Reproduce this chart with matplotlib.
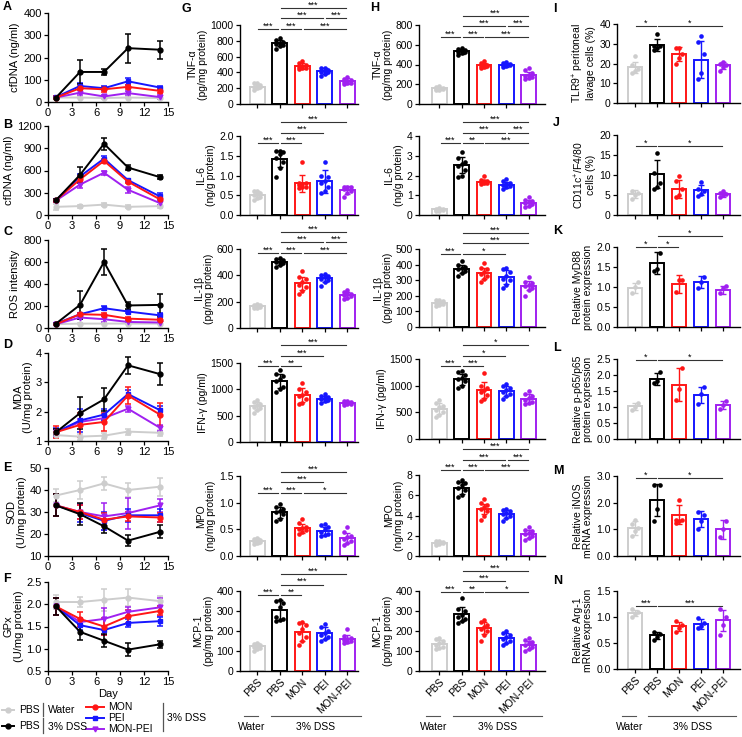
import numpy as np
import matplotlib.pyplot as plt
from matplotlib import transforms
from matplotlib.lines import Line2D

plt.rcParams['font.family'] = ['Liberation Sans', 'DejaVu Sans']
plt.rcParams['mathtext.fontset'] = 'custom'
plt.rcParams['mathtext.rm'] = 'Liberation Sans'
plt.rcParams['mathtext.it'] = 'Liberation Sans:italic'

W, H = 742, 737
COLORS = ['#cdcdcd', '#000000', '#ff1616', '#1616ff', '#a020f0']
MARKERS = ['o', 'o', 'o', 's', 'v']
groups = ['PBS', 'PBS', 'MON', 'PEI', 'MON-PEI']

# ---- time courses (order: PBS water, PBS DSS, MON, PEI, MON-PEI) ----
days = [1, 4, 7, 10, 14]
a_mean = [[20, 20, 18, 20, 18], [20, 135, 135, 242, 235], [20, 62, 57, 68, 50],
          [22, 72, 62, 93, 65], [20, 42, 25, 40, 22]]
a_err = [[3, 4, 4, 4, 4], [3, 55, 15, 65, 40], [5, 8, 10, 10, 10],
         [5, 12, 8, 15, 8], [5, 10, 8, 10, 8]]
b_mean = [[110, 120, 140, 110, 120], [200, 540, 960, 640, 510], [200, 480, 730, 450, 210],
          [200, 520, 760, 470, 250], [195, 410, 570, 340, 160]]
b_err = [[40, 20, 20, 20, 20], [10, 110, 80, 30, 30], [20, 40, 30, 20, 30],
         [20, 30, 30, 20, 40], [20, 40, 30, 40, 30]]
c_mean = [[35, 40, 40, 40, 40], [40, 210, 600, 205, 210], [35, 125, 120, 85, 75],
          [40, 125, 180, 150, 115], [35, 95, 80, 55, 50]]
c_err = [[5, 5, 5, 5, 5], [5, 125, 120, 30, 100], [5, 10, 15, 15, 15],
         [5, 10, 20, 15, 20], [5, 15, 25, 10, 10]]
d_mean = [[1.2, 1.15, 1.18, 1.32, 1.28], [1.3, 1.95, 2.42, 3.58, 3.28], [1.3, 1.55, 1.65, 2.55, 1.9],
          [1.3, 1.7, 1.9, 2.6, 2.05], [1.3, 1.65, 1.78, 2.1, 1.45]]
d_err = [[0.1, 0.1, 0.1, 0.1, 0.1], [0.1, 0.55, 0.4, 0.3, 0.38], [0.2, 0.4, 0.3, 0.3, 0.4],
         [0.15, 0.4, 0.2, 0.15, 0.15], [0.1, 0.1, 0.1, 0.1, 0.1]]
e_mean = [[37.5, 40, 43, 40, 41.5], [33, 29, 23.5, 17, 21], [33, 30, 26.5, 28, 27.5],
          [33, 29.5, 26, 28.5, 28.5], [33, 30, 28, 29.5, 33]]
e_err = [[3, 4, 3, 3, 4], [5, 5, 3, 2.5, 3], [5, 3, 3, 2, 2],
         [5, 4, 4, 3, 3], [5, 3, 6, 7, 3]]
f_mean = [[2.05, 2.05, 2.1, 2.15, 2.07], [1.95, 1.38, 1.18, 0.98, 1.1], [1.95, 1.67, 1.5, 1.73, 1.85],
          [1.95, 1.53, 1.42, 1.58, 1.62], [1.95, 1.6, 1.67, 1.83, 1.93]]
f_err = [[0.15, 0.12, 0.25, 0.2, 0.12], [0.2, 0.18, 0.15, 0.15, 0.08], [0.2, 0.15, 0.2, 0.15, 0.1],
         [0.2, 0.1, 0.1, 0.08, 0.1], [0.2, 0.1, 0.25, 0.1, 0.2]]

# ---- column G ----
g_tnf_mean = [220, 770, 480, 415, 290]
g_tnf_sd = [30, 40, 40, 35, 35]
g_tnf_pts = [[180, 200, 210, 220, 230, 240, 260, 270], [700, 730, 750, 760, 770, 790, 810, 830],
             [440, 450, 460, 470, 480, 500, 520, 540], [360, 380, 400, 410, 420, 430, 450, 460],
             [250, 260, 270, 280, 290, 300, 320, 340]]
g_il6_mean = [0.5, 1.42, 0.8, 0.85, 0.63]
g_il6_sd = [0.1, 0.2, 0.22, 0.3, 0.1]
g_il6_pts = [[0.38, 0.42, 0.45, 0.5, 0.52, 0.55, 0.6, 0.62], [0.95, 1.2, 1.35, 1.45, 1.55, 1.6, 1.62, 1.63],
             [0.68, 0.7, 0.72, 0.75, 0.78, 0.8, 0.82, 1.35], [0.55, 0.62, 0.7, 0.8, 0.85, 0.95, 1.0, 1.35],
             [0.45, 0.55, 0.62, 0.65, 0.7, 0.72, 0.72]]
g_il1b_mean = [165, 500, 340, 378, 250]
g_il1b_sd = [12, 25, 50, 25, 20]
g_il1b_pts = [[150, 155, 160, 165, 170, 172, 175, 180], [460, 475, 490, 500, 505, 515, 525, 535],
              [260, 280, 310, 330, 350, 370, 390, 430], [320, 350, 365, 375, 385, 395, 400, 410],
              [220, 230, 240, 250, 255, 260, 270, 285]]
g_ifn_mean = [680, 1160, 890, 820, 745]
g_ifn_sd = [80, 130, 130, 60, 25]
g_ifn_pts = [[560, 600, 640, 670, 700, 720, 760, 800], [950, 1000, 1050, 1150, 1200, 1250, 1300, 1370],
             [720, 750, 820, 870, 900, 950, 1000, 1120], [750, 780, 800, 810, 830, 850, 880, 920],
             [710, 720, 730, 740, 750, 760, 770, 780]]
g_mpo_mean = [0.28, 0.82, 0.52, 0.47, 0.34]
g_mpo_sd = [0.05, 0.1, 0.08, 0.08, 0.1]
g_mpo_pts = [[0.22, 0.24, 0.26, 0.28, 0.29, 0.3, 0.32, 0.34], [0.65, 0.7, 0.78, 0.82, 0.85, 0.88, 0.92, 0.97],
             [0.42, 0.45, 0.48, 0.5, 0.52, 0.55, 0.62, 0.7], [0.38, 0.4, 0.42, 0.45, 0.5, 0.55, 0.58, 0.6],
             [0.2, 0.25, 0.28, 0.32, 0.35, 0.38, 0.45, 0.55]]
g_mcp_mean = [125, 305, 195, 188, 160]
g_mcp_sd = [15, 50, 45, 30, 20]
g_mcp_pts = [[100, 110, 115, 120, 125, 130, 135, 140], [250, 255, 260, 270, 320, 340, 350, 355],
             [130, 150, 170, 190, 210, 230, 240, 245], [150, 160, 170, 180, 190, 200, 220, 235],
             [140, 145, 150, 155, 160, 165, 175, 210]]

# ---- column H ----
h_tnf_mean = [160, 535, 390, 398, 295]
h_tnf_sd = [15, 25, 30, 20, 30]
h_tnf_pts = [[140, 145, 150, 155, 160, 165, 170, 180], [500, 515, 525, 530, 540, 550, 560, 570],
             [360, 370, 380, 385, 390, 400, 420, 440], [370, 380, 390, 395, 400, 410, 420, 430],
             [250, 265, 275, 285, 295, 310, 340, 360]]
h_il6_mean = [0.28, 2.55, 1.68, 1.52, 0.62]
h_il6_sd = [0.05, 0.4, 0.1, 0.15, 0.15]
h_il6_pts = [[0.2, 0.22, 0.25, 0.27, 0.28, 0.3, 0.32, 0.35], [1.9, 2.0, 2.3, 2.5, 2.6, 2.7, 2.9, 3.2],
             [1.55, 1.6, 1.62, 1.65, 1.7, 1.72, 1.75, 2.0], [1.3, 1.4, 1.45, 1.5, 1.55, 1.6, 1.7, 1.8],
             [0.4, 0.45, 0.55, 0.6, 0.65, 0.7, 0.75, 0.9]]
h_il1b_mean = [155, 372, 345, 318, 265]
h_il1b_sd = [12, 25, 35, 45, 30]
h_il1b_pts = [[135, 140, 150, 155, 160, 165, 170, 175], [330, 345, 360, 370, 380, 385, 395, 425],
              [290, 310, 330, 340, 355, 370, 380, 410], [250, 270, 300, 310, 330, 350, 370, 380],
              [200, 240, 250, 260, 270, 285, 290, 320]]
h_ifn_mean = [570, 1120, 910, 900, 755]
h_ifn_sd = [110, 100, 150, 100, 80]
h_ifn_pts = [[420, 450, 500, 550, 600, 620, 680, 740], [950, 1000, 1080, 1120, 1150, 1200, 1250, 1280],
             [720, 750, 820, 880, 920, 950, 1000, 1240], [750, 800, 850, 880, 920, 950, 1000, 1040],
             [650, 680, 700, 740, 760, 800, 850, 900]]
h_mpo_mean = [1.3, 6.75, 4.65, 4.15, 2.2]
h_mpo_sd = [0.15, 0.6, 0.5, 0.4, 0.4]
h_mpo_pts = [[1.1, 1.2, 1.25, 1.3, 1.35, 1.4, 1.45, 1.5], [5.8, 6.0, 6.5, 6.7, 7.0, 7.2, 7.3, 7.5],
             [3.6, 4.0, 4.4, 4.6, 4.8, 5.0, 5.2, 5.6], [3.5, 3.8, 4.0, 4.1, 4.2, 4.4, 4.5, 4.6],
             [1.6, 1.8, 2.0, 2.2, 2.3, 2.5, 2.6, 2.9]]
h_mcp_mean = [135, 285, 215, 165, 132]
h_mcp_sd = [18, 35, 30, 25, 20]
h_mcp_pts = [[110, 115, 120, 130, 140, 150, 160, 165], [240, 250, 260, 270, 280, 300, 310, 365],
             [150, 180, 200, 210, 220, 230, 245, 255], [130, 140, 150, 160, 170, 180, 190, 200],
             [100, 110, 120, 130, 140, 145, 155, 165]]

# ---- column I-N ----
i_mean = [18, 29.5, 25, 22, 19]
i_sd = [3, 3, 3.5, 9.5, 2]
i_pts = [[15, 16, 17, 19, 24], [27, 28, 29, 29, 35], [20, 23, 25, 28, 28],
         [12, 15, 25, 31, 34], [16, 18, 19, 20, 21]]
j_mean = [5.3, 10.3, 6.5, 6.2, 5.2]
j_sd = [1, 3.5, 2.2, 1.3, 0.6]
j_pts = [[4, 5, 5.5, 6], [6.5, 7, 8, 10.5, 15.5], [4.5, 5, 6.5, 8.5, 9.8],
         [4.8, 5.2, 6, 6.5, 8.3], [4.5, 5, 5.2, 5.5, 6]]
k_mean = [0.97, 1.6, 1.08, 1.12, 0.93]
k_sd = [0.12, 0.28, 0.22, 0.15, 0.1]
k_pts = [[0.85, 1.0, 1.12], [1.4, 1.45, 1.85], [0.88, 1.18, 1.18], [0.98, 1.12, 1.25], [0.85, 0.97, 1.02]]
l_mean = [1.02, 1.88, 1.7, 1.38, 1.06]
l_sd = [0.12, 0.18, 0.52, 0.25, 0.12]
l_pts = [[0.92, 1.0, 1.12], [1.75, 1.8, 2.08], [1.22, 1.55, 2.22], [1.1, 1.4, 1.62], [0.95, 1.05, 1.18]]
m_mean = [1.05, 2.1, 1.55, 1.38, 1.0]
m_sd = [0.25, 0.6, 0.35, 0.3, 0.35]
m_pts = [[0.75, 0.95, 1.05, 1.2, 1.35], [1.3, 1.75, 2.65, 2.65], [1.25, 1.3, 1.35, 1.35, 2.1],
         [1.0, 1.3, 1.55, 1.65], [0.7, 1.0, 1.3]]
n_mean = [1.08, 0.65, 0.82, 0.86, 0.94]
n_sd = [0.06, 0.07, 0.08, 0.1, 0.2]
n_pts = [[1.0, 1.05, 1.1, 1.15], [0.55, 0.62, 0.68, 0.72], [0.72, 0.78, 0.85, 0.92],
         [0.78, 0.82, 0.88, 0.98], [0.65, 0.85, 1.0, 1.15]]

sig6_a = [(0, 1, 0, '***'), (1, 2, 0, '***'), (2, 4, 0, '***'), (1, 3, 1, '***'), (3, 4, 1, '***'), (1, 4, 2, '***')]

fig = plt.figure(figsize=(W / 100, H / 100), dpi=100)


def px_axes(left, top, right, bottom):
    return fig.add_axes([left / W, 1 - bottom / H, (right - left) / W, (bottom - top) / H])


def style(ax, fs):
    for s in ['top', 'right']:
        ax.spines[s].set_visible(False)
    for s in ['left', 'bottom']:
        ax.spines[s].set_linewidth(1.0)
    ax.tick_params(length=3, width=0.9, labelsize=fs, pad=1.5)


def line_panel(box, means, errs, ylim, yticks, ylabel, xlabel=None):
    ax = px_axes(*box)
    for k in [0, 4, 3, 2, 1]:
        ax.errorbar(days, means[k], yerr=errs[k], color=COLORS[k], marker=MARKERS[k], ms=3.5,
                    lw=1.4, elinewidth=1.1, capsize=2, capthick=1.1)
    ax.set_xlim(0, 15)
    ax.set_xticks([0, 3, 6, 9, 12, 15])
    ax.set_ylim(*ylim)
    ax.set_yticks(yticks)
    style(ax, 8)
    ax.set_ylabel(ylabel, fontsize=8, labelpad=2, linespacing=1.0)
    if xlabel:
        ax.set_xlabel(xlabel, fontsize=8, labelpad=1)
    return ax


def bar_panel(box, xlim, mean, sd, pts, ylim_top, yticks, ylabel, sigs, base, labels=False):
    ax = px_axes(*box)
    hpx = box[3] - box[1]
    for i in range(5):
        ax.bar(i, mean[i], width=0.66, facecolor='white', edgecolor=COLORS[i], linewidth=1.4, zorder=2)
        ax.errorbar(i, mean[i], yerr=sd[i], color=COLORS[i], capsize=2.5, elinewidth=1,
                    capthick=1, zorder=3)
        p = np.asarray(pts[i], dtype=float)
        off = ((np.arange(len(p)) % 3) - 1) * 0.15
        ax.scatter(i + off, p, s=11, color=COLORS[i], zorder=4, linewidths=0)
    ax.set_xlim(*xlim)
    ax.set_ylim(0, ylim_top)
    ax.set_yticks(yticks)
    ax.set_xticks(range(5))
    style(ax, 7.5)
    if labels:
        ax.set_xticklabels(groups, rotation=45, ha='right', rotation_mode='anchor', fontsize=7.5)
    else:
        ax.set_xticklabels([])
    ax.set_ylabel(ylabel, fontsize=7.5, labelpad=2, linespacing=1.0)
    tr = transforms.blended_transform_factory(ax.transData, ax.transAxes)
    step = 10.5 / hpx
    for i, j, lev, txt in sigs:
        y = base + lev * step
        ax.plot([i + 0.06, j - 0.06], [y, y], transform=tr, color='#333333', lw=0.8, clip_on=False)
        ax.text((i + j) / 2, y - 0.02, txt, transform=tr, ha='center', va='bottom', fontsize=6.5)
    if labels:
        trf = transforms.blended_transform_factory(ax.transData, fig.transFigure)
        yl = 1 - 716 / H
        yt = 1 - 727 / H
        fig.add_artist(Line2D([-0.6, 0.05], [yl, yl], transform=trf, color='#555555', lw=0.8))
        fig.add_artist(Line2D([0.6, 4.6], [yl, yl], transform=trf, color='#555555', lw=0.8))
        fig.text(-0.25, yt, 'Water', transform=trf, ha='center', va='center', fontsize=7.5)
        fig.text(2.6, yt, '3% DSS', transform=trf, ha='center', va='center', fontsize=7.5)
    return ax


# column A-F
line_panel((48, 13, 168, 102), a_mean, a_err, (0, 400), [0, 100, 200, 300, 400], 'cfDNA (ng/ml)')
line_panel((48, 126, 168, 215), b_mean, b_err, (0, 1200), [0, 300, 600, 900, 1200], 'cfDNA (ng/ml)')
line_panel((48, 240, 168, 328), c_mean, c_err, (0, 800), [0, 200, 400, 600, 800], 'ROS intensity')
line_panel((48, 353, 168, 441), d_mean, d_err, (1, 4), [1, 2, 3, 4], 'MDA\n(U/mg protein)')
line_panel((48, 468, 168, 556), e_mean, e_err, (10, 50), [10, 20, 30, 40, 50], 'SOD\n(U/mg protein)')
axf = line_panel((48, 582, 168, 671), f_mean, f_err, (0.5, 2.5), [0.5, 1.0, 1.5, 2.0, 2.5],
                 'GPx\n(U/mg protein)', xlabel='Day')
axf.set_yticklabels(['0.5', '1.0', '1.5', '2.0', '2.5'])

# column G
gx = (-0.76, 4.48)
bar_panel((240, 25, 358, 104), gx, g_tnf_mean, g_tnf_sd, g_tnf_pts, 1000, [0, 200, 400, 600, 800, 1000],
          'TNF-α\n(pg/mg protein)', sig6_a, 0.95)
ax = bar_panel((240, 136, 358, 215), gx, g_il6_mean, g_il6_sd, g_il6_pts, 2.0, [0, 0.5, 1.0, 1.5, 2.0],
               'IL-6\n(ng/g protein)', [(0, 1, 0, '***'), (1, 2, 0, '***'), (1, 3, 1, '***'), (1, 4, 2, '***')], 0.91)
ax.set_yticklabels(['0.0', '0.5', '1.0', '1.5', '2.0'])
bar_panel((240, 249, 358, 328), gx, g_il1b_mean, g_il1b_sd, g_il1b_pts, 600, [0, 200, 400, 600],
          'IL-1β\n(pg/mg protein)', sig6_a, 0.95)
bar_panel((240, 363, 358, 442), gx, g_ifn_mean, g_ifn_sd, g_ifn_pts, 1500, [0, 500, 1000, 1500],
          'IFN-γ (pg/ml)', [(0, 1, 0, '***'), (1, 2, 0, '**'), (1, 3, 1, '***'), (1, 4, 2, '***')], 0.96)
ax = bar_panel((240, 476, 358, 556), gx, g_mpo_mean, g_mpo_sd, g_mpo_pts, 1.5, [0, 0.5, 1.0, 1.5],
               'MPO\n(ng/mg protein)', [(0, 1, 0, '***'), (1, 2, 0, '***'), (2, 4, 0, '*'), (1, 3, 1, '***'),
                                        (1, 4, 2, '***')], 0.79)
ax.set_yticklabels(['0.0', '0.5', '1.0', '1.5'])
bar_panel((240, 591, 358, 671), gx, g_mcp_mean, g_mcp_sd, g_mcp_pts, 400, [0, 100, 200, 300, 400],
          'MCP-1\n(pg/mg protein)', [(0, 1, 0, '***'), (1, 2, 0, '**'), (1, 3, 1, '***'), (1, 4, 2, '***')],
          0.95, labels=True)

# column H
hx = (-0.9, 4.72)
bar_panel((419, 25, 545, 104), hx, h_tnf_mean, h_tnf_sd, h_tnf_pts, 800, [0, 200, 400, 600, 800],
          'TNF-α\n(pg/mg protein)', sig6_a, 0.85)
bar_panel((419, 136, 545, 215), hx, h_il6_mean, h_il6_sd, h_il6_pts, 4, [0, 1, 2, 3, 4],
          'IL-6\n(ng/g protein)', [(0, 1, 0, '***'), (1, 2, 0, '**'), (2, 4, 0, '***'), (1, 3, 1, '***'),
                                   (3, 4, 1, '***'), (1, 4, 2, '***')], 0.91)
bar_panel((419, 249, 545, 327), hx, h_il1b_mean, h_il1b_sd, h_il1b_pts, 500, [0, 100, 200, 300, 400, 500],
          'IL-1β\n(pg/mg protein)', [(0, 1, 0, '***'), (1, 3, 0, '*'), (1, 4, 1, '***'), (1, 4, 2, '***')], 0.94)
bar_panel((419, 359, 545, 439), hx, h_ifn_mean, h_ifn_sd, h_ifn_pts, 1500, [0, 500, 1000, 1500],
          'IFN-γ (pg/ml)', [(0, 1, 0, '***'), (1, 2, 0, '***'), (1, 3, 1, '*'), (1, 4, 2, '*')], 0.91)
bar_panel((419, 475, 545, 556), hx, h_mpo_mean, h_mpo_sd, h_mpo_pts, 8, [0, 2, 4, 6, 8],
          'MPO\n(ng/mg protein)', sig6_a, 1.06)
bar_panel((419, 591, 545, 671), hx, h_mcp_mean, h_mcp_sd, h_mcp_pts, 400, [0, 100, 200, 300, 400],
          'MCP-1\n(pg/mg protein)', [(0, 1, 0, '***'), (1, 2, 0, '**'), (2, 4, 0, '*'), (1, 3, 1, '***'),
                                     (1, 4, 2, '***')], 0.99, labels=True)

# column I-N
ix = (-0.82, 4.77)
sig2 = [(0, 1, 0, '*'), (1, 4, 0, '*')]
bar_panel((617, 24, 740, 103), ix, i_mean, i_sd, i_pts, 40, [0, 10, 20, 30, 40],
          'TLR9$^{+}$ peritoneal\nlavage cells (%)', sig2, 0.97)
bar_panel((617, 135, 740, 215), ix, j_mean, j_sd, j_pts, 20, [0, 5, 10, 15, 20],
          'CD11c$^{+}$/F4/80\ncells (%)', sig2, 0.86)
ax = bar_panel((617, 247, 740, 327), ix, k_mean, k_sd, k_pts, 2.0, [0, 0.5, 1.0, 1.5, 2.0],
               'Relative MyD88\nprotein expression', [(0, 1, 0, '*'), (1, 2, 0, '*'), (1, 4, 1, '*')], 1.0)
ax.set_yticklabels(['0.0', '0.5', '1.0', '1.5', '2.0'])
ax = bar_panel((617, 359, 740, 439), ix, l_mean, l_sd, l_pts, 2.5, [0, 0.5, 1.0, 1.5, 2.0, 2.5],
               'Relative p-p65/p65\nprotein expression', sig2, 0.99)
ax.set_yticklabels(['0.0', '0.5', '1.0', '1.5', '2.0', '2.5'])
ax = bar_panel((617, 476, 740, 556), ix, m_mean, m_sd, m_pts, 3.0, [0, 1.0, 2.0, 3.0],
               'Relative iNOS\nmRNA expression', sig2, 0.97)
ax.set_yticklabels(['0.0', '1.0', '2.0', '3.0'])
ax = bar_panel((617, 591, 740, 669), ix, n_mean, n_sd, n_pts, 1.5, [0, 0.5, 1.0, 1.5],
               'Relative Arg-1\nmRNA expression', [(0, 1, 0, '***'), (1, 4, 0, '***')], 0.81, labels=True)
ax.set_yticklabels(['0.0', '0.5', '1.0', '1.5'])

# panel letters
letters = [('A', 3, 7), ('B', 3, 125), ('C', 3, 232), ('D', 3, 345), ('E', 3, 468), ('F', 3, 579),
           ('G', 182, 9), ('H', 370, 8), ('I', 553, 9), ('J', 553, 123), ('K', 553, 231),
           ('L', 553, 348), ('M', 553, 471), ('N', 553, 581)]
for t, x, y in letters:
    fig.text(x / W, 1 - y / H, t, fontsize=9, fontweight='bold', va='center', ha='left')


# legend for time courses
def leg_item(x0, x1, y, k):
    yy = 1 - y / H
    fig.add_artist(Line2D([x0 / W, x1 / W], [yy, yy], color=COLORS[k], lw=1.4))
    fig.add_artist(Line2D([(x0 + x1) / 2 / W], [yy], color=COLORS[k], marker=MARKERS[k], ms=3.5))


leg_item(2, 14, 710, 0)
leg_item(2, 14, 726, 1)
fig.text(19 / W, 1 - 710 / H, 'PBS', fontsize=7.5, va='center')
fig.text(19 / W, 1 - 726 / H, 'PBS', fontsize=7.5, va='center')
for y0, y1 in [(703, 716), (718, 733)]:
    fig.add_artist(Line2D([43 / W, 43 / W], [1 - y0 / H, 1 - y1 / H], color='#555555', lw=0.9))
fig.text(48 / W, 1 - 710 / H, 'Water', fontsize=7.5, va='center')
fig.text(48 / W, 1 - 727 / H, '3% DSS', fontsize=7.5, va='center')
for k, y, t in [(2, 707, 'MON'), (3, 718, 'PEI'), (4, 729, 'MON-PEI')]:
    leg_item(86, 104, y, k)
    fig.text(108 / W, 1 - y / H, t, fontsize=7.5, va='center')
fig.add_artist(Line2D([163 / W, 163 / W], [1 - 703 / H, 1 - 731 / H], color='#555555', lw=0.9))
fig.text(167 / W, 1 - 718 / H, '3% DSS', fontsize=7.5, va='center')

fig.savefig('out.png', dpi=100)
